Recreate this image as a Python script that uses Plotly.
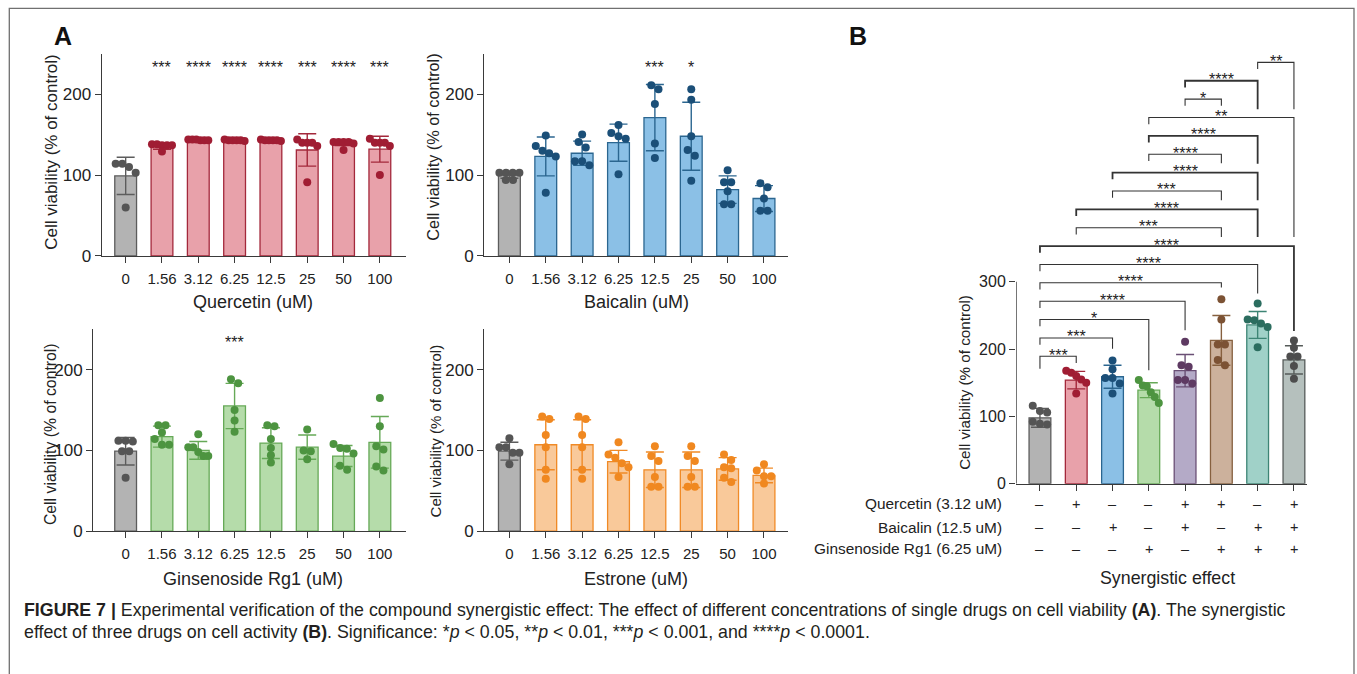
import plotly.graph_objects as go

# ---------------- data ----------------
conc_labels = ["0", "1.56", "3.12", "6.25", "12.5", "25", "50", "100"]

quer_mean = [99, 136, 143, 143, 143, 131, 140, 132]
quer_sd = [23, 4, 1.5, 1.5, 1.5, 20, 3.5, 16]
quer_pts = [[114, 114, 110, 103, 60], [138, 137, 137, 138, 137, 129],
            [144, 143, 144, 143, 144, 143], [144, 143, 143, 143, 142, 143],
            [144, 143, 143, 143, 142, 143], [140, 144, 136, 140, 140, 91],
            [141, 141, 141, 141, 139, 131], [140, 145, 140, 136, 140, 100]]
quer_sig = ["", "***", "****", "****", "****", "***", "****", "***"]

bai_mean = [100, 123, 127, 140, 171, 148, 82, 71]
bai_sd = [4, 24, 15, 23, 41, 42, 17, 16]
bai_pts = [[103, 103, 103, 103, 94, 94], [149, 130, 136, 127, 123, 78],
           [150, 141, 134, 112, 117, 117], [162, 148, 152, 145, 101],
           [211, 206, 188, 139, 121], [206, 193, 148, 131, 124, 93],
           [106, 91, 91, 80, 64, 64], [90, 85, 71, 56, 56]]
bai_sig = ["", "", "", "", "***", "*", "", ""]

gin_mean = [99, 117, 100, 155, 109, 104, 93, 110]
gin_sd = [17, 13, 11, 28, 19, 15, 13, 32]
gin_pts = [[112, 112, 111, 99, 99, 66], [131, 131, 122, 114, 107, 107],
           [120, 104, 104, 98, 93, 93], [188, 183, 150, 137, 123],
           [130, 131, 114, 103, 94, 85], [126, 100, 99, 89],
           [108, 103, 102, 96, 81, 76], [165, 130, 105, 101, 80, 75]]
gin_sig = ["", "", "", "***", "", "", "", ""]

est_mean = [99, 107, 107, 86, 76, 76, 77, 69]
est_sd = [11, 31, 31, 14, 22, 22, 14, 9]
est_pts = [[115, 104, 104, 97, 97, 83], [139, 142, 119, 104, 76, 65],
           [139, 142, 119, 104, 76, 65], [110, 95, 91, 84, 79, 67],
           [105, 93, 87, 67, 55, 55], [105, 93, 87, 67, 55, 55],
           [95, 88, 79, 78, 66, 61], [83, 75, 68, 68, 59]]
est_sig = [""] * 8

syn_mean = [98, 154, 159, 139, 168, 213, 236, 184]
syn_sd = [14, 13, 17, 11, 24, 37, 20, 21]
syn_pts = [[116, 108, 106, 92, 89, 88], [168, 165, 160, 155, 150, 134],
           [183, 170, 157, 157, 149, 134], [154, 146, 145, 136, 129, 120],
           [211, 176, 174, 154, 154, 149], [274, 244, 207, 207, 184, 176],
           [268, 244, 243, 238, 233, 203], [213, 202, 189, 189, 175, 156]]
quercetin_in = ["–", "+", "–", "–", "+", "+", "–", "+"]
baicalin_in = ["–", "–", "+", "–", "+", "–", "+", "+"]
rg1_in = ["–", "–", "–", "+", "–", "+", "+", "+"]
row_labels = ["Quercetin (3.12 uM)", "Baicalin (12.5 uM)", "Ginsenoside Rg1 (6.25 uM)"]

# comparisons (group i, group j, label), listed from top level down
syn_pairs = [(6, 7, "**"), (4, 6, "****"), (4, 5, "*"), (3, 7, "**"), (3, 6, "****"),
             (3, 5, "****"), (2, 6, "****"), (2, 5, "***"), (1, 6, "****"), (1, 5, "***"),
             (0, 7, "****"), (0, 6, "****"), (0, 5, "****"), (0, 4, "****"), (0, 3, "*"),
             (0, 2, "***"), (0, 1, "***")]

# ---------------- layout helpers ----------------
W, H = 1357, 674
K = 1.016  # vertical layout factor
FONT = "Liberation Sans, Arial, Helvetica, sans-serif"
TXT = "#222222"
AX = "#3a3a3a"

def PX(p):
    return p / W

def PY(p):
    return 1 - p * K / H

GRAY = dict(fill="#b3b3b3", edge="#5c5c5c", pt="#555555")
QUER = dict(fill="#e8a1aa", edge="#a3283b", pt="#a01d33")
BAI = dict(fill="#8bc0e6", edge="#2b6690", pt="#1b4f78")
GIN = dict(fill="#b5dcaa", edge="#66a957", pt="#4d9440")
EST = dict(fill="#f9c99a", edge="#f08a26", pt="#f08820")
PUR = dict(fill="#b4aac7", edge="#6a4f75", pt="#5e3a62")
BRN = dict(fill="#ccb19c", edge="#86603f", pt="#7c5234")
TEAL = dict(fill="#a0d1c8", edge="#3d8575", pt="#2b6d5f")
GG = dict(fill="#b5c0bd", edge="#555b59", pt="#4d4d4d")

DOT = 8


def swarm(vals, ypx, xpx):
    """Arrange points so that overlapping dots spread sideways (centred rows)."""
    order = sorted(range(len(vals)), key=lambda i: -vals[i])
    clusters = []
    for i in order:
        if clusters and abs(vals[clusters[-1][-1]] - vals[i]) * ypx < DOT * 0.8:
            clusters[-1].append(i)
        else:
            clusters.append([i])
    offs = [0.0] * len(vals)
    for cl in clusters:
        n = len(cl)
        if n == 1:
            continue
        s = min(DOT * 0.9, 20.0 / (n - 1))
        for k, i in enumerate(cl):
            offs[i] = (k - (n - 1) / 2) * s / xpx
    return offs


fig = go.Figure()
layout = dict(
    width=W, height=H, margin=dict(l=0, r=0, t=0, b=0),
    paper_bgcolor="white", plot_bgcolor="white", showlegend=False,
    barmode="overlay", font=dict(family=FONT, color=TXT),
)
annotations = []
shapes = []

panels = [
    dict(mean=quer_mean, sd=quer_sd, pts=quer_pts, sig=quer_sig, col=QUER,
         xd=(101.7, 406), yb=255.7, yt=53.7, xr=(-0.66, 7.72), title="Quercetin (uM)",
         tpos=(253, 302), ytpos=(50.7, 152), ytsize=17),
    dict(mean=bai_mean, sd=bai_sd, pts=bai_pts, sig=bai_sig, col=BAI,
         xd=(484.3, 788), yb=255.7, yt=53.7, xr=(-0.69, 7.66), title="Baicalin (uM)",
         tpos=(636, 302), ytpos=(433.5, 147), ytsize=16.3),
    dict(mean=gin_mean, sd=gin_sd, pts=gin_pts, sig=gin_sig, col=GIN,
         xd=(93.3, 406), yb=530.7, yt=328.9, xr=(-0.89, 7.72), title="Ginsenoside Rg1 (uM)",
         tpos=(253, 578), ytpos=(50.7, 434), ytsize=15.8),
    dict(mean=est_mean, sd=est_sd, pts=est_pts, sig=est_sig, col=EST,
         xd=(484.3, 788), yb=530.7, yt=328.9, xr=(-0.69, 7.66), title="Estrone (uM)",
         tpos=(636, 578), ytpos=(435, 430), ytsize=15),
]


def axis_names(n):
    return ("x" if n == 1 else f"x{n}"), ("y" if n == 1 else f"y{n}")


def add_group(xa, ya, i, mean, sd, pts, col, ypx, xpx):
    fig.add_trace(go.Bar(
        x=[i], y=[mean], width=0.6, xaxis=xa, yaxis=ya,
        marker=dict(color=col["fill"], line=dict(color=col["edge"], width=1.3)),
        error_y=dict(type="data", array=[sd], visible=True, color=col["edge"],
                     thickness=1.4, width=9),
        hoverinfo="skip"))
    offs = swarm(pts, ypx, xpx)
    fig.add_trace(go.Scatter(
        x=[i + o for o in offs], y=pts, mode="markers", xaxis=xa, yaxis=ya,
        marker=dict(color=col["pt"], size=DOT, line=dict(width=0)),
        cliponaxis=False, hoverinfo="skip"))


for n, p in enumerate(panels, start=1):
    xa, ya = axis_names(n)
    xkey = "xaxis" if n == 1 else f"xaxis{n}"
    ykey = "yaxis" if n == 1 else f"yaxis{n}"
    ypx = (p["yb"] - p["yt"]) * K / 250.0
    xpx = (p["xd"][1] - p["xd"][0]) / (p["xr"][1] - p["xr"][0])
    layout[xkey] = dict(
        domain=[PX(p["xd"][0]), PX(p["xd"][1])], range=list(p["xr"]), anchor=ya,
        tickmode="array", tickvals=list(range(8)), ticktext=conc_labels,
        showline=True, linecolor=AX, linewidth=1.4, ticks="outside", ticklen=6,
        tickwidth=1.4, tickcolor=AX, tickfont=dict(size=15, color=TXT),
        ticklabelstandoff=3, showgrid=False, zeroline=False, fixedrange=True)
    layout[ykey] = dict(
        domain=[PY(p["yb"]), PY(p["yt"])], range=[0, 250], anchor=xa,
        tickmode="array", tickvals=[0, 100, 200],
        showline=True, linecolor=AX, linewidth=1.4, ticks="outside", ticklen=6,
        tickwidth=1.4, tickcolor=AX, tickfont=dict(size=17, color=TXT),
        showgrid=False, zeroline=False, fixedrange=True)
    for i in range(8):
        col = GRAY if i == 0 else p["col"]
        add_group(xa, ya, i, p["mean"][i], p["sd"][i], p["pts"][i], col, ypx, xpx)
        if p["sig"][i]:
            annotations.append(dict(x=i, y=238, xref=xa, yref=ya, text=p["sig"][i],
                                    showarrow=False, yanchor="middle", yshift=-4,
                                    font=dict(size=16, color=TXT)))
    annotations.append(dict(x=PX(p["tpos"][0]), y=PY(p["tpos"][1]), xref="paper", yref="paper",
                            text=p["title"], showarrow=False, xanchor="center", yanchor="middle",
                            font=dict(size=18, color=TXT)))
    annotations.append(dict(x=PX(p["ytpos"][0]), y=PY(p["ytpos"][1]), xref="paper", yref="paper",
                            text="Cell viability (% of control)", textangle=-90, showarrow=False,
                            xanchor="center", yanchor="middle",
                            font=dict(size=p["ytsize"], color=TXT)))

# ---------------- panel B ----------------
nB = 5
xa, ya = axis_names(nB)
B_xd = (1016, 1307)
B_xr = (-0.66, 7.36)
B_yb, B_ymax = 483.3, 650
B_ypx = 0.6723
B_yt = B_yb - B_ymax * B_ypx
B_xpx = (B_xd[1] - B_xd[0]) / (B_xr[1] - B_xr[0])
layout["xaxis5"] = dict(
    domain=[PX(B_xd[0]), PX(B_xd[1])], range=list(B_xr), anchor=ya,
    tickmode="array", tickvals=list(range(8)), showticklabels=False,
    showline=True, linecolor=AX, linewidth=1.4, ticks="outside", ticklen=6,
    tickwidth=1.4, tickcolor=AX, showgrid=False, zeroline=False, fixedrange=True)
layout["yaxis5"] = dict(
    domain=[PY(B_yb), PY(B_yt)], range=[0, B_ymax], anchor=xa,
    tickmode="array", tickvals=[0, 100, 200, 300],
    showline=False, ticks="outside", ticklen=6, tickwidth=1.4, tickcolor=AX,
    tickfont=dict(size=16, color=TXT), showgrid=False, zeroline=False, fixedrange=True)
shapes.append(dict(type="line", xref=xa, yref=ya, x0=B_xr[0], x1=B_xr[0], y0=0, y1=300,
                   line=dict(color=AX, width=1.4)))

syn_cols = [GRAY, QUER, BAI, GIN, PUR, BRN, TEAL, GG]
for i in range(8):
    add_group(xa, ya, i, syn_mean[i], syn_sd[i], syn_pts[i], syn_cols[i], B_ypx * K, B_xpx)

# bracket geometry (layout): evenly spaced levels, leg end heights
lvl_top, lvl_step = 626.2, 27.3
right_ends = [556.7, 556.7, 561.7, 366.8, 475.4, 476.4, 421.4, 421.4, 366.8, 366.8,
              227, 282.6, 291.5, 228, 168.5, 200.8, 179.4]
bold_levels = {1, 4, 6, 8, 10}
for lv, (a, b, lab) in enumerate(syn_pairs):
    yl = lvl_top - lv * lvl_step
    yleft = 171 if lv == len(syn_pairs) - 1 else yl - 10
    path = f"M {a},{yleft} L {a},{yl} L {b},{yl} L {b},{right_ends[lv]}"
    shapes.append(dict(type="path", xref=xa, yref=ya, path=path,
                       line=dict(color="#333333", width=1.8 if lv in bold_levels else 1.1)))
    annotations.append(dict(x=(a + b) / 2, y=yl, xref=xa, yref=ya, text=lab, showarrow=False,
                            yanchor="middle", yshift=1, font=dict(size=16, color=TXT)))

# +/- table
rows_y = [503.3, 526.7, 548.3]
for r, (lab, signs) in enumerate(zip(row_labels, [quercetin_in, baicalin_in, rg1_in])):
    annotations.append(dict(x=PX(1004), y=PY(rows_y[r]), xref="paper", yref="paper", text=lab,
                            showarrow=False, xanchor="right", yanchor="middle",
                            font=dict(size=15.4, color=TXT)))
    for i, s in enumerate(signs):
        annotations.append(dict(x=i, y=PY(rows_y[r]), xref=xa, yref="paper", text=s,
                                showarrow=False, xanchor="center", yanchor="middle",
                                font=dict(size=14.5, color=TXT)))
annotations.append(dict(x=PX(1167.5), y=PY(577), xref="paper", yref="paper",
                        text="Synergistic effect", showarrow=False, xanchor="center",
                        yanchor="middle", font=dict(size=17.8, color=TXT)))
annotations.append(dict(x=PX(965), y=PY(382.5), xref="paper", yref="paper",
                        text="Cell viability (% of control)", textangle=-90, showarrow=False,
                        xanchor="center", yanchor="middle", font=dict(size=15.2, color=TXT)))

# panel letters
annotations.append(dict(x=PX(63), y=PY(36), xref="paper", yref="paper", text="<b>A</b>",
                        showarrow=False, xanchor="center", yanchor="middle",
                        font=dict(size=25, color="#111111")))
annotations.append(dict(x=PX(858), y=PY(36), xref="paper", yref="paper", text="<b>B</b>",
                        showarrow=False, xanchor="center", yanchor="middle",
                        font=dict(size=25, color="#111111")))

# frame
shapes.append(dict(type="rect", xref="paper", yref="paper", x0=PX(9.3), x1=PX(1354),
                   y0=PY(720), y1=PY(8.3), line=dict(color="#707070", width=1.3),
                   fillcolor="rgba(0,0,0,0)", layer="above"))

# caption
cap1 = ("<b>FIGURE 7 |</b> Experimental verification of the compound synergistic effect: "
        "The effect of different concentrations of single drugs on cell viability <b>(A)</b>. "
        "The synergistic")
cap2 = ("effect of three drugs on cell activity <b>(B)</b>. Significance: "
        "*<i>p</i> &lt; 0.05, **<i>p</i> &lt; 0.01, "
        "***<i>p</i> &lt; 0.001, and ****<i>p</i> &lt; 0.0001.")
annotations.append(dict(x=PX(22), y=PY(609), xref="paper", yref="paper", text=cap1,
                        showarrow=False, xanchor="left", yanchor="middle",
                        font=dict(size=17.8, color="#231f20")))
annotations.append(dict(x=PX(22), y=PY(631), xref="paper", yref="paper", text=cap2,
                        showarrow=False, xanchor="left", yanchor="middle",
                        font=dict(size=17.8, color="#231f20")))

layout["annotations"] = annotations
layout["shapes"] = shapes
fig.update_layout(**layout)

fig.write_html("out.html", config={"displayModeBar": False},
               post_script="document.body.style.margin='0';document.body.style.overflow='hidden';")
